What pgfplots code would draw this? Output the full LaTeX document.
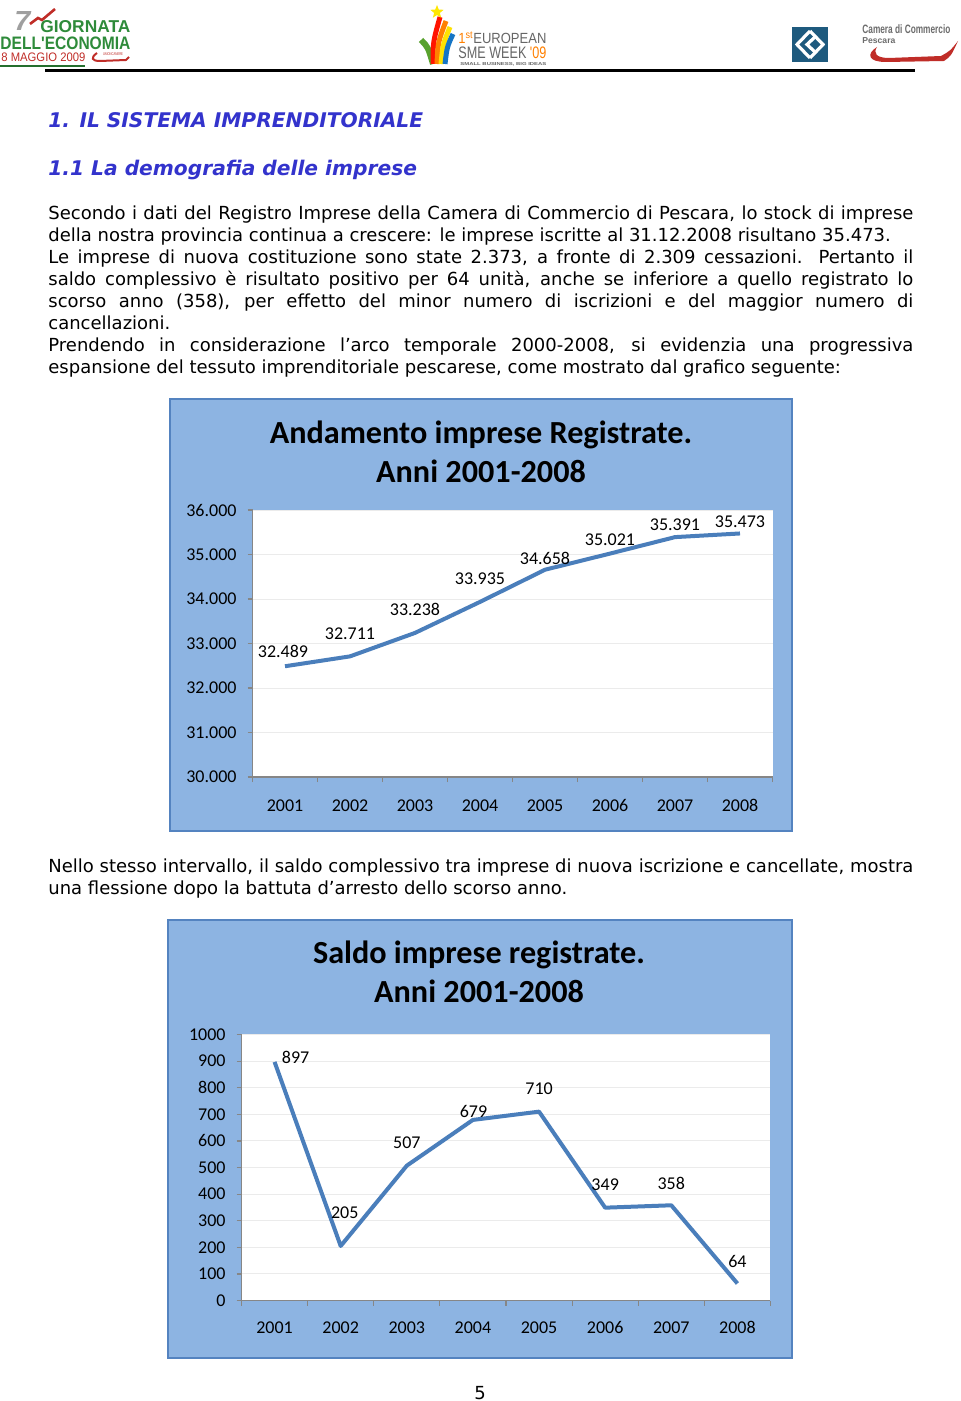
\documentclass[border=0pt]{standalone}
\usepackage{fontspec}
\setmainfont{DejaVu Sans}[ItalicFont={DejaVu Sans Oblique},BoldItalicFont={DejaVu Sans Bold Oblique}]
\newfontfamily\calib{Carlito}
\newfontfamily\lib{Liberation Sans}
\usepackage{graphicx}
\usepackage{pgfplots}
\usepackage{pgfplotstable}
\pgfplotsset{compat=1.18}
\usetikzlibrary{shapes.geometric}

\definecolor{boxfill}{RGB}{141,180,226}
\definecolor{boxedge}{RGB}{84,131,192}
\definecolor{series}{RGB}{74,126,187}
\definecolor{axgray}{RGB}{134,134,134}
\definecolor{gridc}{RGB}{235,235,235}
\definecolor{head}{RGB}{51,51,204}
\definecolor{lgreen}{RGB}{46,139,58}
\definecolor{lred}{RGB}{192,45,40}
\definecolor{lblue}{RGB}{30,90,126}

\pgfplotstableread{
x y lab dx dy
1 32489 32.489 -1.0 7.6
2 32711 32.711 0 11.2
3 33238 33.238 0 11.5
4 33935 33.935 0 11.5
5 34658 34.658 0 5.9
6 35021 35.021 0 6.8
7 35391 35.391 0 6.0
8 35473 35.473 0 5.8
}\tabA

\pgfplotstableread{
x y lab dx dy
1 897 897 10.5 2.2
2 205 205 2.0 16.7
3 507 507 0 11.5
4 679 679 0.3 4.0
5 710 710 0 11.3
6 349 349 0 11.6
7 358 358 0 11.1
8 64 64 0 11.2
}\tabB

\newcommand{\bodyJ}[2]{\node[anchor=base west,inner sep=0pt,font=\fontsize{9}{11}\selectfont] at (48,#1) {\makebox[432.5pt][s]{#2}};}
\newcommand{\bodyL}[2]{\node[anchor=base west,inner sep=0pt,font=\fontsize{9}{11}\selectfont] at (48,#1) {#2};}

\pgfplotsset{
  chartstyle/.style={
    scale only axis, anchor=south west,
    xmin=0.5, xmax=8.5,
    xtick={1,2,3,4,5,6,7,8},
    xticklabels={2001,2002,2003,2004,2005,2006,2007,2008},
    minor xtick={0.5,1.5,2.5,3.5,4.5,5.5,6.5,7.5,8.5},
    axis x line*=bottom, axis y line*=left,
    axis line style={-, draw=axgray, line width=0.6pt},
    tick style={draw=axgray, line width=0.6pt},
    major x tick style={draw=none},
    tick align=outside, major tick length=2.5pt, minor tick length=2.5pt,
    ymajorgrids, grid style={draw=gridc, line width=0.5pt},
    axis background/.style={fill=white},
    scaled y ticks=false,
    /pgf/number format/assume math mode=true,
    ticklabel style={font=\calib\fontsize{9}{10}\selectfont, text=black},
    yticklabel style={anchor=east, inner sep=0pt, xshift=-5.3pt},
  },
  seriesstyle/.style={
    series, line width=2pt, line join=round, mark=none,
    nodes near coords, point meta=explicit symbolic,
    visualization depends on={\thisrow{dx}\as\dx},
    visualization depends on={\thisrow{dy}\as\dy},
    every node near coord/.append style={font=\calib\fontsize{9}{10}\selectfont, text=black, anchor=center, inner sep=0pt, xshift=\dx pt, yshift=\dy pt},
  },
}

\begin{document}
\begin{tikzpicture}
\begin{scope}[x=0.5pt,y=-0.5pt]
\path[fill=white] (0,0) rectangle (960,1401);
\useasboundingbox (0,0) rectangle (960,1401);

% ---------- header: left logo
\node[anchor=south west,inner sep=0pt,text=gray!75] at (14,31) {\resizebox{8pt}{9.5pt}{\lib\bfseries\itshape 7}};
\draw[lred,line width=1.3pt] (30,24) -- (38,18) -- (42,20) -- (55,9);
\node[anchor=south west,inner sep=0pt,text=lgreen] at (40,33) {\resizebox{45pt}{6pt}{\lib\bfseries GIORNATA}};
\node[anchor=south west,inner sep=0pt,text=lgreen] at (0,50) {\resizebox{65pt}{6.3pt}{\lib\bfseries DELL'ECONOMIA}};
\node[anchor=south west,inner sep=0pt,text=lred] at (1,62) {\resizebox{42pt}{4.3pt}{\lib 8 MAGGIO 2009}};
\draw[lred,line width=1pt] (97,53) .. controls (90,58) and (92,61) .. (100,61) -- (126,60) -- (129,57);
\node[inner sep=0pt,text=lred] at (113,54.5) {\resizebox{10pt}{1.4pt}{\lib UNIONCAMERE}};
\draw[lgreen!80!black,line width=1pt] (0,66) -- (85,66);

% ---------- header: middle logo
\draw[line width=3pt,lgreen!80!yellow] (421,40) .. controls (428,47) .. (433,64);
\draw[line width=2.5pt,red!85!orange] (433,64) .. controls (433,42) .. (440,17);
\draw[line width=2.5pt,orange] (437,64) .. controls (438,42) .. (446,21);
\draw[line width=2.5pt,yellow!85!orange] (441,64) .. controls (443,44) .. (450,27);
\draw[line width=2.5pt,cyan!55!blue] (445,64) .. controls (447,47) .. (453,34);
\node[star,star points=5,star point ratio=2.3,fill=yellow!90!orange,minimum size=7pt,inner sep=0pt] at (437,12) {};
\node[anchor=south west,inner sep=0pt,text=gray!80!black] at (458,44.5) {\resizebox{44pt}{6pt}{\lib\textcolor{orange}{1\textsuperscript{st}}EUROPEAN}};
\node[anchor=south west,inner sep=0pt,text=gray!80!black] at (458,59) {\resizebox{44pt}{5.8pt}{\lib SME WEEK \textcolor{orange}{'09}}};
\node[anchor=south west,inner sep=0pt,text=gray!80!black] at (460,66.5) {\resizebox{43pt}{1.5pt}{\lib\bfseries SMALL BUSINESS, BIG IDEAS}};

% ---------- header: right logo
\fill[lblue] (792,27) rectangle (828,62);
\draw[white,line width=1.6pt] (810,31) -- (797,44.5) -- (810,58);
\draw[white,line width=1.6pt] (816,36) -- (807,44.5) -- (816,53);
\draw[white,line width=1.6pt] (810,31) -- (823,44.5) -- (810,58);
\node[anchor=south west,inner sep=0pt,text=gray!85!black] at (862,34.5) {\resizebox{44pt}{4.4pt}{\lib\bfseries Camera di Commercio}};
\node[anchor=base west,inner sep=0pt,text=gray!85!black] at (862,43.5) {\resizebox{16.5pt}{!}{\lib\bfseries Pescara}};
\fill[lred] (877,47) .. controls (866,54) and (868,62) .. (886,62) -- (944,61) .. controls (951,56) .. (958,41) .. controls (950,51) .. (941,56) -- (889,58) .. controls (876,58) and (873,53) .. (877,47) -- cycle;

\draw[line width=1.5pt] (45,71) -- (915,71);

% ---------- headings
\node[anchor=base west,inner sep=0pt,text=head,font=\bfseries\itshape\fontsize{10.1}{12}\selectfont] at (48,127.5) {1. IL SISTEMA IMPRENDITORIALE};
\node[anchor=base west,inner sep=0pt,text=head,font=\bfseries\itshape\fontsize{10.1}{12}\selectfont] at (48,176) {1.1 La demografia delle imprese};

% ---------- body text
\bodyJ{220}{Secondo i dati del Registro Imprese della Camera di Commercio di Pescara, lo stock di imprese}
\bodyL{242}{della nostra provincia continua a crescere: le imprese iscritte al 31.12.2008 risultano 35.473.}
\bodyJ{264}{Le imprese di nuova costituzione sono state 2.373, a fronte di 2.309 cessazioni. Pertanto il}
\bodyJ{286}{saldo complessivo è risultato positivo per 64 unità, anche se inferiore a quello registrato lo}
\bodyJ{308}{scorso anno (358), per effetto del minor numero di iscrizioni e del maggior numero di}
\bodyL{329.5}{cancellazioni.}
\bodyJ{351.5}{Prendendo in considerazione l’arco temporale 2000-2008, si evidenzia una progressiva}
\bodyL{373.5}{espansione del tessuto imprenditoriale pescarese, come mostrato dal grafico seguente:}

\bodyJ{872.5}{Nello stesso intervallo, il saldo complessivo tra imprese di nuova iscrizione e cancellate, mostra}
\bodyL{894.5}{una flessione dopo la battuta d’arresto dello scorso anno.}

\node[anchor=base,inner sep=0pt,font=\fontsize{9}{11}\selectfont] at (480,1399) {5};

% ---------- chart frames and titles
\draw[fill=boxfill,draw=boxedge,line width=1pt] (170,399) rectangle (792,831);
\node[anchor=base,inner sep=0pt,font=\calib\bfseries\fontsize{16.1}{18}\selectfont] at (481,443) {Andamento imprese Registrate.};
\node[anchor=base,inner sep=0pt,font=\calib\bfseries\fontsize{16.1}{18}\selectfont] at (481,482) {Anni 2001-2008};

\draw[fill=boxfill,draw=boxedge,line width=1pt] (168,920) rectangle (792,1358);
\node[anchor=base,inner sep=0pt,font=\calib\bfseries\fontsize{16.1}{18}\selectfont] at (479,963) {Saldo imprese registrate.};
\node[anchor=base,inner sep=0pt,font=\calib\bfseries\fontsize{16.1}{18}\selectfont] at (479,1002) {Anni 2001-2008};
\end{scope}

% ---------- chart 1
\begin{axis}[chartstyle,
  at={(126.25pt,-388.5pt)}, width=260pt, height=133.5pt,
  ymin=30000, ymax=36000, ytick={30000,31000,32000,33000,34000,35000,36000},
  xticklabel style={anchor=base, inner sep=0pt, yshift=-14.85pt},
  /pgf/number format/1000 sep={.}]
\addplot[seriesstyle] table[x=x,y=y,meta=lab]{\tabA};
\end{axis}

% ---------- chart 2
\begin{axis}[chartstyle,
  at={(120.75pt,-650.25pt)}, width=264.5pt, height=133pt,
  ymin=0, ymax=1000, ytick={0,100,...,1000},
  xticklabel style={anchor=base, inner sep=0pt, yshift=-13.9pt},
  /pgf/number format/1000 sep={}]
\addplot[seriesstyle] table[x=x,y=y,meta=lab]{\tabB};
\end{axis}
\end{tikzpicture}
\end{document}
